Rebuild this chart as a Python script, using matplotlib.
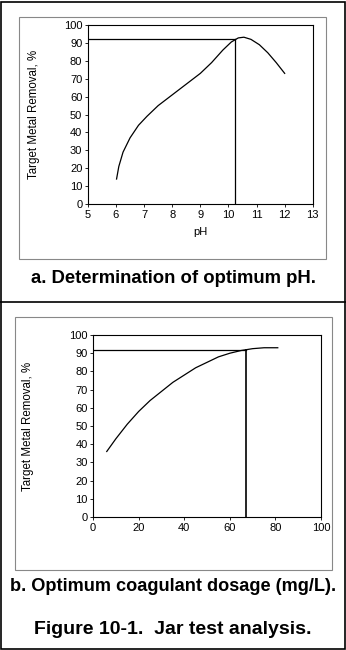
import matplotlib.pyplot as plt
from matplotlib.patches import Rectangle
from matplotlib.lines import Line2D

plt.rcParams['font.family'] = ['Liberation Sans', 'DejaVu Sans']

# panel a: removal vs pH
ph = [6.02, 6.1, 6.25, 6.5, 6.8, 7.1, 7.5, 8.0, 8.5, 9.0, 9.4, 9.8, 10.1, 10.35, 10.55, 10.8, 11.1, 11.4, 11.7, 12.0]
removal_a = [14, 21, 29, 37, 44, 49, 55, 61, 67, 73, 79, 86, 90.5, 92.8, 93.2, 92, 89, 84.5, 79, 73]
opt_ph = 10.25
opt_removal_a = 92

# panel b: removal vs coagulant dosage
dose = [6, 10, 15, 20, 25, 30, 35, 40, 45, 50, 55, 60, 65, 70, 75, 81]
removal_b = [36, 43, 51, 58, 64, 69, 74, 78, 82, 85, 88, 90, 91.5, 92.5, 93, 93]
opt_dose = 67
opt_removal_b = 92

yticks = [0, 10, 20, 30, 40, 50, 60, 70, 80, 90, 100]

fig = plt.figure(figsize=(3.46, 6.5), dpi=100)

# outer border and divider
fig.add_artist(Rectangle((0.002, 0.002), 0.994, 0.995, transform=fig.transFigure,
                         fill=False, edgecolor='black', linewidth=1.2))
fig.add_artist(Line2D([0, 1], [0.535, 0.535], transform=fig.transFigure,
                      color='black', linewidth=1.2))

# grey frames round each chart
fig.add_artist(Rectangle((0.055, 0.6015), 0.887, 0.372, transform=fig.transFigure,
                         fill=False, edgecolor='#888888', linewidth=0.8))
fig.add_artist(Rectangle((0.043, 0.123), 0.916, 0.389, transform=fig.transFigure,
                         fill=False, edgecolor='#888888', linewidth=0.8))


def style(ax):
    for s in ax.spines.values():
        s.set_linewidth(0.8)
    ax.set_yticks(yticks)
    ax.tick_params(labelsize=8, length=2.5, width=0.6, pad=1.5)
    ax.set_ylim(0, 100)
    ax.set_ylabel('Target Metal Removal, %', fontsize=8.3, labelpad=3)


ax1 = fig.add_axes([0.254, 0.686, 0.650, 0.2755])
ax1.plot(ph, removal_a, color='black', linewidth=0.9)
ax1.plot([5, opt_ph], [opt_removal_a, opt_removal_a], color='black', linewidth=0.9)
ax1.plot([opt_ph, opt_ph], [0, opt_removal_a], color='black', linewidth=0.9)
ax1.set_xlim(5, 13)
ax1.set_xticks(range(5, 14))
style(ax1)
ax1.set_xlabel('pH', fontsize=8, labelpad=5)
ax1.yaxis.set_label_coords(-0.215, 0.5)

ax2 = fig.add_axes([0.269, 0.2046, 0.659, 0.28])
ax2.plot(dose, removal_b, color='black', linewidth=0.9)
ax2.plot([0, opt_dose], [opt_removal_b, opt_removal_b], color='black', linewidth=0.9)
ax2.plot([opt_dose, opt_dose], [0, opt_removal_b], color='black', linewidth=1.2)
ax2.set_xlim(0, 100)
ax2.set_xticks([0, 20, 40, 60, 80, 100])
style(ax2)
ax2.yaxis.set_label_coords(-0.26, 0.5)

fig.text(0.5, 0.572, 'a. Determination of optimum pH.', ha='center', va='center',
         fontsize=13.3, fontweight='bold')
fig.text(0.5, 0.098, 'b. Optimum coagulant dosage (mg/L).', ha='center', va='center',
         fontsize=13.1, fontweight='bold')
fig.text(0.5, 0.032, 'Figure 10-1.  Jar test analysis.', ha='center', va='center',
         fontsize=14, fontweight='bold')

fig.savefig('out.png', dpi=100)
